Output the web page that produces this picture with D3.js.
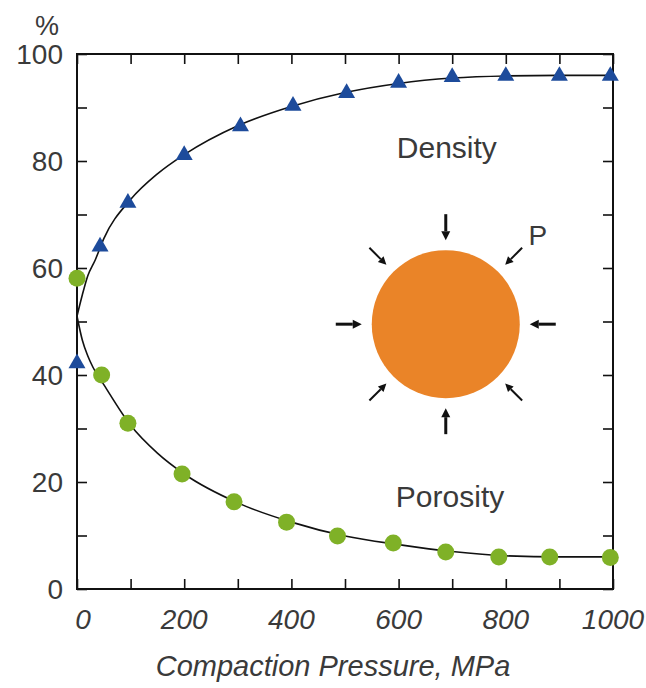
<!DOCTYPE html>
<html>
<head>
<meta charset="utf-8">
<script src="https://cdn.jsdelivr.net/npm/d3@7"></script>
<style>
  body { margin: 0; background: #fff; }
  text { font-family: "Liberation Sans", Arial, sans-serif; fill: #3a3a3a; }
</style>
</head>
<body>
<script>
// measured points
var densityX = [0, 43, 95, 200, 305, 403, 503, 600, 700, 800, 900, 995];
var densityY = [42.2, 64, 72.2, 81.1, 86.5, 90.3, 92.7, 94.6, 95.7, 95.9, 95.9, 95.9];
var porosityX = [0, 46, 95, 196, 293, 391, 486, 590, 688, 787, 882, 995];
var porosityY = [58.1, 40, 31, 21.5, 16.3, 12.5, 9.9, 8.6, 6.9, 6.0, 6.0, 5.9];

// fitted lines
var densityFitX = [0, 10, 20, 34, 50, 100, 150, 200, 300, 400, 500, 600, 700, 800, 900, 1000];
var densityFitY = [51, 55, 58.5, 61.5, 65.5, 72.8, 77.6, 81.2, 86.6, 90.2, 92.8, 94.5, 95.5, 95.9, 96, 96];
var porosityFitX = [0, 10, 20, 30, 50, 100, 150, 200, 300, 400, 500, 600, 700, 800, 900, 1000];
var porosityFitY = [51, 46.5, 43.6, 41.4, 38.2, 30.6, 25.4, 21.5, 16.1, 12.5, 9.9, 8.3, 7.0, 6.2, 6.0, 6.0];

var xTicks = [0, 200, 400, 600, 800, 1000];
var yTicks = [0, 20, 40, 60, 80, 100];
var arrowAngles = [0, 45, 90, 135, 180, 225, 270, 315];

var width = 646, height = 688;
var margin = {top: 54, right: 33, bottom: 99, left: 77};
var w = width - margin.left - margin.right;
var h = height - margin.top - margin.bottom;

var svg = d3.select("body").append("svg")
  .attr("width", width)
  .attr("height", height);

var g = svg.append("g")
  .attr("transform", "translate(" + margin.left + "," + margin.top + ")");

var x = d3.scaleLinear().domain([0, 1000]).range([0, w]);
var y = d3.scaleLinear().domain([0, 100]).range([h, 0]);

// inward ticks on all four sides
g.append("g").attr("class", "tk")
  .call(d3.axisBottom(x).tickValues(d3.range(0, 1001, 100)).tickSize(10).tickFormat(""))
  .attr("transform", "translate(0," + (h - 10) + ")");
g.append("g").attr("class", "tk")
  .call(d3.axisTop(x).tickValues(d3.range(0, 1001, 100)).tickSize(10).tickFormat(""))
  .attr("transform", "translate(0,10)");
g.append("g").attr("class", "tk")
  .call(d3.axisLeft(y).tickValues(d3.range(0, 101, 10)).tickSize(10).tickFormat(""))
  .attr("transform", "translate(10,0)");
g.append("g").attr("class", "tk")
  .call(d3.axisRight(y).tickValues(d3.range(0, 101, 10)).tickSize(10).tickFormat(""))
  .attr("transform", "translate(" + (w - 10) + ",0)");
g.selectAll(".tk .domain").remove();
g.selectAll(".tk line").attr("stroke", "#111").attr("stroke-width", 1.6);

g.append("rect")
  .attr("width", w).attr("height", h)
  .attr("fill", "none").attr("stroke", "#111").attr("stroke-width", 2);

// tick labels
g.selectAll(".ylab").data(yTicks).enter().append("text")
  .attr("x", -14).attr("y", d => y(d)).attr("dy", "0.36em")
  .attr("text-anchor", "end").style("font-size", "28px")
  .text(d => d);
g.append("text").attr("x", -30).attr("y", -19)
  .attr("text-anchor", "middle").style("font-size", "27px").text("%");

g.selectAll(".xlab").data(xTicks).enter().append("text")
  .attr("x", d => x(d) + (d == 0 ? 6 : 0)).attr("y", h + 40)
  .attr("text-anchor", "middle").style("font-size", "28px").style("font-style", "italic")
  .text(d => d);

svg.append("text").attr("x", 333).attr("y", 676)
  .attr("text-anchor", "middle").style("font-size", "29px").style("font-style", "italic")
  .text("Compaction Pressure, MPa");

// fit curves
var line = d3.line().x(d => x(d[0])).y(d => y(d[1])).curve(d3.curveMonotoneX);
g.append("path").datum(d3.zip(densityFitX, densityFitY))
  .attr("d", line).attr("fill", "none").attr("stroke", "#111").attr("stroke-width", 1.6);
g.append("path").datum(d3.zip(porosityFitX, porosityFitY))
  .attr("d", line).attr("fill", "none").attr("stroke", "#111").attr("stroke-width", 1.6);

// markers
g.selectAll(".tri").data(d3.zip(densityX, densityY)).enter().append("path")
  .attr("d", d3.symbol().type(d3.symbolTriangle).size(125))
  .attr("transform", d => "translate(" + x(d[0]) + "," + y(d[1]) + ")")
  .attr("fill", "#1d4b9b");
g.selectAll(".dot").data(d3.zip(porosityX, porosityY)).enter().append("circle")
  .attr("cx", d => x(d[0])).attr("cy", d => y(d[1])).attr("r", 8.5)
  .attr("fill", "#7fb127");

// labels
g.append("text").attr("x", x(690)).attr("y", y(80.6))
  .attr("text-anchor", "middle").style("font-size", "30px").text("Density");
g.append("text").attr("x", x(696)).attr("y", y(15.3))
  .attr("text-anchor", "middle").style("font-size", "30px").text("Porosity");

// compressed particle
var cx = x(688), cy = y(49.5), R = 74;
g.append("circle").attr("cx", cx).attr("cy", cy).attr("r", R).attr("fill", "#ea8428");

arrowAngles.forEach(function(a) {
  var t = a * Math.PI / 180;
  var ux = Math.cos(t), uy = Math.sin(t);
  var straight = a % 90 == 0;
  var r0 = straight ? 110 : 108, r1 = 84, head = straight ? 9 : 8, hw = straight ? 4.5 : 4;
  var bx = cx + ux * (r1 + head), by = cy + uy * (r1 + head);
  g.append("line")
    .attr("x1", cx + ux * r0).attr("y1", cy + uy * r0)
    .attr("x2", bx).attr("y2", by)
    .attr("stroke", "#111").attr("stroke-width", straight ? 3 : 2);
  var tipx = cx + ux * r1, tipy = cy + uy * r1;
  g.append("path")
    .attr("d", "M" + tipx + "," + tipy + "L" + (bx - uy * hw) + "," + (by + ux * hw) +
      "L" + (bx + uy * hw) + "," + (by - ux * hw) + "Z")
    .attr("fill", "#111");
});

g.append("text").attr("x", cx + 92).attr("y", cy - 79)
  .attr("text-anchor", "middle").style("font-size", "28px").text("P");
</script>
</body>
</html>
